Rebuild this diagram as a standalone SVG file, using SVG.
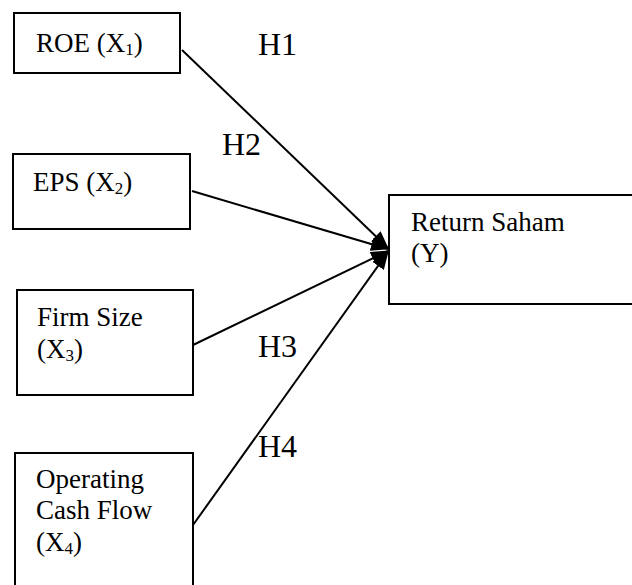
<svg xmlns="http://www.w3.org/2000/svg" width="632" height="585" viewBox="0 0 632 585">
<style>
.box{fill:#fff;stroke:#000;stroke-width:2}
.t{font-family:"Liberation Serif","Times New Roman",serif;font-size:27px;fill:#000}
.h{font-family:"Liberation Serif","Times New Roman",serif;font-size:32px;fill:#000}
.sub{font-size:17px}
.c{stroke:#000;stroke-width:2;fill:none;marker-end:url(#arr)}
</style>
<defs>
<marker id="arr" markerWidth="9" markerHeight="7" refX="8.5" refY="3.5" orient="auto" markerUnits="strokeWidth">
<path d="M0,0 L9,3.5 L0,7 Z" fill="#000"/>
</marker>
</defs>
<rect width="632" height="585" fill="#fff"/>
<g id="connectors">
<line class="c" x1="182" y1="50" x2="388" y2="248"/>
<line class="c" x1="192" y1="191" x2="388" y2="249"/>
<line class="c" x1="193" y1="345" x2="388" y2="251"/>
<line class="c" x1="193" y1="525" x2="388" y2="252"/>
</g>
<g id="roe">
<rect class="box" x="14" y="13" width="166" height="60"/>
<text class="t" x="36" y="52">ROE (X<tspan class="sub" dy="3">1</tspan><tspan dy="-3">)</tspan></text>
</g>
<g id="eps">
<rect class="box" x="13" y="154" width="177" height="75"/>
<text class="t" x="33" y="191">EPS (X<tspan class="sub" dy="3">2</tspan><tspan dy="-3">)</tspan></text>
</g>
<g id="firm">
<rect class="box" x="17" y="290" width="176" height="105"/>
<text class="t" x="37" y="326">Firm Size</text>
<text class="t" x="37" y="358">(X<tspan class="sub" dy="3">3</tspan><tspan dy="-3">)</tspan></text>
</g>
<g id="ocf">
<rect class="box" x="15" y="453" width="178" height="150"/>
<text class="t" x="36" y="488">Operating</text>
<text class="t" x="36" y="519">Cash Flow</text>
<text class="t" x="36" y="551">(X<tspan class="sub" dy="3">4</tspan><tspan dy="-3">)</tspan></text>
</g>
<g id="return">
<rect class="box" x="389" y="195" width="260" height="109"/>
<text class="t" x="411" y="231">Return Saham</text>
<text class="t" x="411" y="262">(Y)</text>
</g>
<g id="labels">
<text class="h" x="258" y="55">H1</text>
<text class="h" x="222" y="155">H2</text>
<text class="h" x="258" y="357">H3</text>
<text class="h" x="258" y="457">H4</text>
</g>
</svg>
